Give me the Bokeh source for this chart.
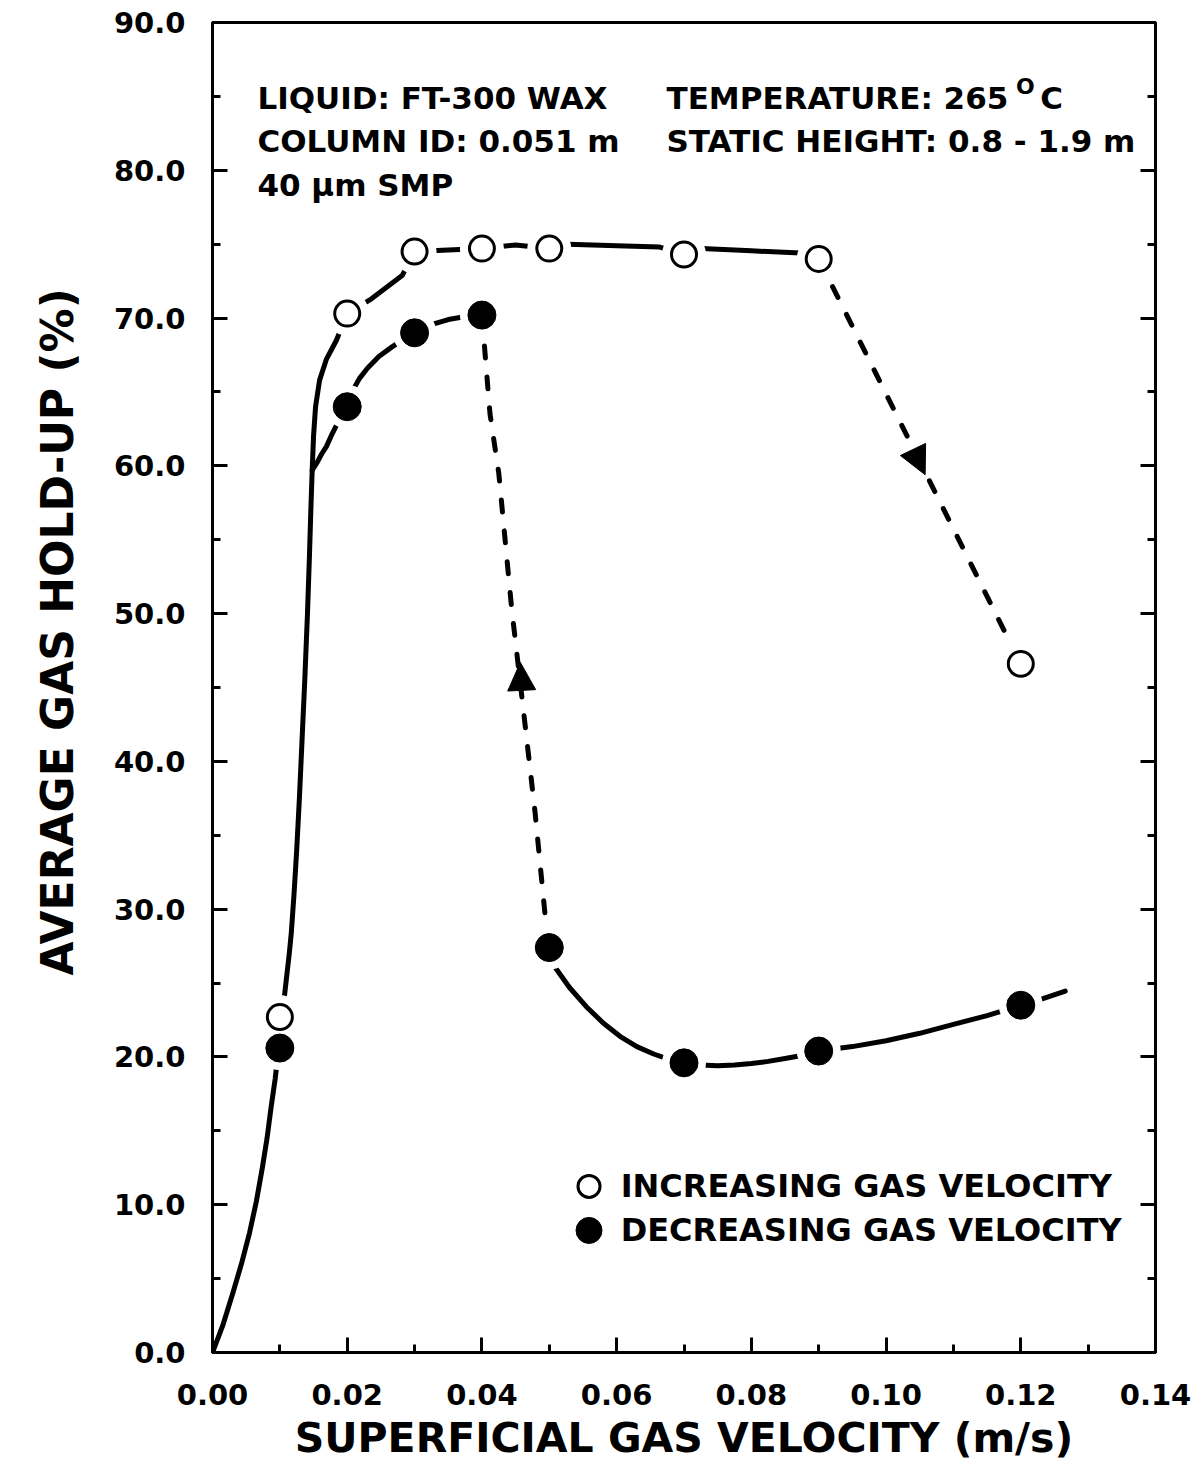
from bokeh.plotting import figure
from bokeh.models import (LinearAxis, Range1d, NumeralTickFormatter, Label, Arrow,
                          NormalHead, FixedTicker, CustomJSTickFormatter, Title)
from bokeh.embed import file_html
from bokeh.resources import INLINE

# ---------------- data ----------------
x_ticks = [0.0, 0.02, 0.04, 0.06, 0.08, 0.10, 0.12, 0.14]
x_minor = [0.01, 0.03, 0.05, 0.07, 0.09, 0.11, 0.13]
y_ticks = [0, 10, 20, 30, 40, 50, 60, 70, 80, 90]
y_minor = [5, 15, 25, 35, 45, 55, 65, 75, 85]

# increasing gas velocity (open circles)
x_inc = [0.01, 0.02, 0.03, 0.04, 0.05, 0.07, 0.09, 0.12]
y_inc = [22.7, 70.3, 74.5, 74.7, 74.7, 74.3, 74.0, 46.6]
# decreasing gas velocity (filled circles)
x_dec = [0.01, 0.02, 0.03, 0.04, 0.05, 0.07, 0.09, 0.12]
y_dec = [20.6, 64.0, 69.0, 70.2, 27.4, 19.6, 20.4, 23.5]

# hand-drawn curves, points
curve_a_x = [0.0, 0.0015, 0.003, 0.0043, 0.0055, 0.0065, 0.0074, 0.0081, 0.0087, 0.0093,
             0.0098, 0.0103, 0.0107, 0.0111, 0.0114, 0.0117, 0.0121, 0.0125, 0.0129, 0.0133,
             0.0137, 0.0141, 0.0144, 0.0146, 0.0148, 0.0150, 0.0153, 0.0159, 0.0169, 0.0184,
             0.02]
curve_a_y = [0.0, 1.8, 4.0, 6.0, 8.1, 10.2, 12.5, 14.5, 16.6, 18.5,
             20.5, 22.5, 24.2, 25.8, 27.0, 28.4, 31.0, 34.0, 37.5, 41.5,
             45.5, 50.0, 54.0, 57.0, 59.7, 62.0, 64.0, 65.8, 67.2, 68.5,
             70.3]

curve_b_x = [0.0148, 0.0155, 0.0162, 0.0169, 0.0178, 0.0188, 0.02, 0.0207, 0.0218, 0.023,
             0.0247, 0.0265, 0.0281, 0.03, 0.0321, 0.035, 0.0376, 0.04]
curve_b_y = [59.7, 60.2, 60.8, 61.3, 62.2, 63.1, 64.0, 65.0, 65.9, 66.6,
             67.4, 68.0, 68.5, 69.0, 69.5, 69.9, 70.1, 70.2]

curve_top_x = [0.02, 0.0236, 0.0282, 0.03, 0.04, 0.045, 0.05, 0.0528, 0.06, 0.0664, 0.07,
               0.0726, 0.08, 0.0873, 0.09]
curve_top_y = [70.3, 71.3, 72.9, 74.5, 74.7, 74.95, 74.7, 75.0, 74.9, 74.8, 74.3,
               74.7, 74.55, 74.4, 74.0]

curve_c_x = [0.05, 0.0508, 0.053, 0.0555, 0.058, 0.0605, 0.063, 0.0655, 0.068, 0.07,
             0.0725, 0.075, 0.0775, 0.08, 0.0825, 0.085, 0.0875, 0.09, 0.095, 0.10,
             0.105, 0.11, 0.115, 0.12, 0.1233, 0.1266]
curve_c_y = [27.4, 26.1, 24.7, 23.4, 22.3, 21.4, 20.7, 20.2, 19.8, 19.6,
             19.45, 19.4, 19.45, 19.55, 19.7, 19.9, 20.1, 20.4, 20.7, 21.1,
             21.6, 22.2, 22.8, 23.5, 23.95, 24.45]

drop_x = [0.04, 0.0412, 0.0425, 0.0444, 0.0462, 0.0479, 0.0494, 0.05]
drop_y = [70.2, 63.5, 59.5, 50.4, 43.3, 36.5, 29.5, 27.4]

fall_x = [0.09, 0.12]
fall_y = [74.0, 46.6]

# arrow heads (start -> tip)
arrow_up = (0.0461, 43.0, 0.0457, 46.7)
arrow_down = (0.1000, 64.9, 0.1058, 59.4)

FONT = "DejaVu Sans"

p = figure(frame_width=943, frame_height=1330,
           x_range=Range1d(0, 0.14), y_range=Range1d(0, 90),
           output_backend="svg", toolbar_location=None,
           min_border_left=212, min_border_right=40,
           min_border_top=22, min_border_bottom=113)
p.xgrid.grid_line_color = None
p.ygrid.grid_line_color = None
p.outline_line_color = "black"
p.outline_line_width = 3
p.background_fill_color = "white"
p.border_fill_color = "white"


def style_axis(ax, ticks, minor):
    ax.ticker = FixedTicker(ticks=ticks, minor_ticks=minor)
    ax.axis_line_width = 3
    ax.axis_line_color = "black"
    ax.major_tick_in = 15
    ax.major_tick_out = 0
    ax.minor_tick_in = 8
    ax.minor_tick_out = 0
    ax.major_tick_line_width = 3
    ax.minor_tick_line_width = 3
    ax.major_tick_line_color = "black"
    ax.minor_tick_line_color = "black"
    ax.major_label_text_font = FONT
    ax.major_label_text_font_style = "bold"
    ax.major_label_text_color = "black"
    ax.major_label_text_font_size = "29px"
    ax.axis_label_text_font = FONT
    ax.axis_label_text_font_style = "bold"
    ax.axis_label_text_color = "black"


xa = p.xaxis[0]
style_axis(xa, x_ticks, x_minor)
xa.formatter = NumeralTickFormatter(format="0.00")
xa.major_label_standoff = 31
xa.axis_label = "SUPERFICIAL GAS VELOCITY (m/s)"
xa.axis_label_text_font_size = "41px"
xa.axis_label_standoff = 6

ya = p.yaxis[0]
style_axis(ya, y_ticks, y_minor)
ya.formatter = NumeralTickFormatter(format="0.0")
ya.major_label_standoff = 27

ra = LinearAxis()
style_axis(ra, y_ticks, y_minor)
ra.formatter = CustomJSTickFormatter(code="return ''")
ra.major_label_standoff = 0
p.add_layout(ra, "right")

# y title placed off-centre as in the original
p.add_layout(Title(text="AVERAGE GAS HOLD-UP (%)", align="left", offset=377,
                   text_font=FONT, text_font_style="bold", text_font_size="44px",
                   text_color="black", standoff=56), "left")

# ---------------- curves ----------------
LW = 5
p.line(curve_a_x, curve_a_y, line_width=LW, line_color="black", line_cap="round", line_join="round")
p.line(curve_b_x, curve_b_y, line_width=LW, line_color="black", line_cap="round", line_join="round")
p.line(curve_top_x, curve_top_y, line_width=LW, line_color="black", line_cap="round", line_join="round")
p.line(curve_c_x, curve_c_y, line_width=LW, line_color="black", line_cap="round", line_join="round")
p.line(drop_x, drop_y, line_width=LW, line_color="black", line_dash="12 19", line_cap="round")
p.line(fall_x, fall_y, line_width=LW, line_color="black", line_dash="12 19", line_cap="round")

for (x0, y0, x1, y1) in (arrow_up, arrow_down):
    p.add_layout(Arrow(end=NormalHead(size=28, fill_color="black", line_color="black",
                                      line_width=1),
                       x_start=x0, y_start=y0, x_end=x1, y_end=y1,
                       line_color=None))

# white halos that open a gap in the lines around every marker
p.scatter(x_inc, y_inc, size=44, fill_color="white", line_color=None)
p.scatter(x_dec, y_dec, size=44, fill_color="white", line_color=None)

p.scatter(x_inc, y_inc, size=25, fill_color="white", line_color="black", line_width=3)
p.scatter(x_dec, y_dec, size=28, fill_color="black", line_color="black", line_width=1)

# ---------------- legend ----------------
leg_x = [0.0559]
leg_y_inc = [11.24]
leg_y_dec = [8.26]
p.scatter(leg_x, leg_y_inc, size=22, fill_color="white", line_color="black", line_width=3)
p.scatter(leg_x, leg_y_dec, size=26, fill_color="black", line_color="black")


def add_text(x, y, txt, size="31px"):
    p.add_layout(Label(x=x, y=y, text=txt, text_font=FONT, text_font_style="bold",
                       text_font_size=size, text_color="black", text_baseline="middle",
                       text_align="left"))


add_text(0.0606, 11.24, "INCREASING GAS VELOCITY", "32px")
add_text(0.0606, 8.26, "DECREASING GAS VELOCITY", "32px")

# ---------------- annotations ----------------
add_text(0.00667, 84.9, "LIQUID: FT-300 WAX")
add_text(0.00667, 82.0, "COLUMN ID: 0.051 m")
add_text(0.00667, 79.0, "40 μm SMP")
add_text(0.0674, 84.9, "TEMPERATURE: 265")
add_text(0.1193, 85.7, "O", "22px")
add_text(0.1229, 84.9, "C")
add_text(0.0674, 82.0, "STATIC HEIGHT: 0.8 - 1.9 m")

open("out.html", "w").write(file_html(p, INLINE))
